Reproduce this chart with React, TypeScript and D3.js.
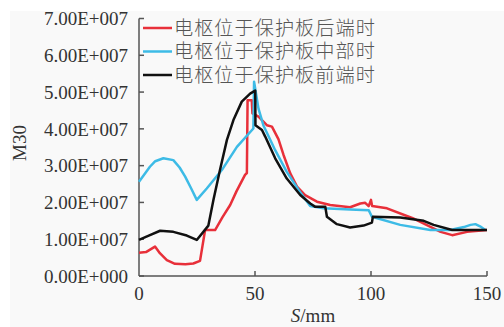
import React, { useEffect, useRef } from "react";
import * as d3 from "d3";

// S (mm), M30 pairs for each armature position
const rearData: [number, number][] = [
  [0, 0.63e7], [3, 0.65e7], [6.9, 0.8e7], [9, 0.62e7], [12, 0.43e7], [15.5, 0.33e7], [20, 0.32e7],
  [23.4, 0.34e7], [26.3, 0.41e7], [28.5, 1.25e7], [32.8, 1.25e7], [36, 1.6e7], [39.3, 1.93e7],
  [42, 2.3e7], [45.7, 2.75e7], [46.5, 2.8e7], [46.8, 4.78e7], [48.6, 4.78e7], [48.9, 4.42e7],
  [51.5, 4.33e7], [55.1, 4.1e7], [57.3, 4.06e7], [60.1, 3.72e7], [62.3, 3.29e7], [65.2, 2.79e7],
  [68.1, 2.43e7], [71.6, 2.2e7], [76.7, 2.02e7], [82.4, 1.93e7], [91, 1.87e7], [95.4, 1.97e7],
  [97.5, 1.99e7], [99, 1.9e7], [100, 2.07e7], [100.5, 1.9e7], [106.9, 1.84e7], [118, 1.57e7],
  [130, 1.2e7], [135, 1.11e7], [141.4, 1.2e7], [150, 1.25e7],
];

const middleData: [number, number][] = [
  [0, 2.56e7], [4.7, 2.97e7], [7, 3.12e7], [10.5, 3.2e7], [14.8, 3.15e7], [17.5, 2.95e7],
  [19.9, 2.7e7], [22.5, 2.38e7], [24.9, 2.07e7], [29.2, 2.38e7], [35.7, 2.88e7], [42.2, 3.51e7],
  [49.3, 4.01e7], [49.6, 5.28e7], [51.5, 4.55e7], [53.6, 4.1e7], [58.7, 3.42e7], [63.7, 2.83e7],
  [68.8, 2.34e7], [73.8, 1.9e7], [79.5, 1.84e7], [91, 1.81e7], [99, 1.79e7], [100.4, 1.61e7],
  [112.6, 1.39e7], [125.6, 1.25e7], [134.2, 1.25e7], [140, 1.33e7], [142.9, 1.39e7],
  [145, 1.41e7], [147, 1.35e7], [149.3, 1.25e7],
];

const frontData: [number, number][] = [
  [0, 0.98e7], [4.7, 1.11e7], [9.1, 1.23e7], [14.8, 1.2e7], [20.6, 1.1e7], [24.9, 0.98e7],
  [29.9, 1.37e7], [32.1, 2.07e7], [34.9, 2.88e7], [37.9, 3.7e7], [40.7, 4.24e7], [44.3, 4.74e7],
  [47.9, 4.96e7], [50.1, 5.04e7], [50.2, 4.1e7], [53, 3.97e7], [54.4, 3.79e7], [58.7, 3.2e7],
  [63.7, 2.65e7], [69.5, 2.2e7], [73.8, 1.97e7], [76, 1.88e7], [80.3, 1.88e7], [81, 1.61e7],
  [85.3, 1.41e7], [91, 1.32e7], [96.8, 1.37e7], [100.4, 1.45e7], [100.8, 1.61e7], [112.6, 1.59e7],
  [122.7, 1.5e7], [127, 1.39e7], [135, 1.25e7], [150, 1.25e7],
];

const seriesNames = ["电枢位于保护板后端时", "电枢位于保护板中部时", "电枢位于保护板前端时"];
const seriesColors = ["#e8303a", "#3dbbe6", "#111111"];
const xTicks = [0, 50, 100, 150];
const yTicks = [0, 1e7, 2e7, 3e7, 4e7, 5e7, 6e7, 7e7];

const serif = "'Liberation Serif', 'Times New Roman', Times, serif";

export default function App() {
  const ref = useRef<SVGSVGElement>(null);

  useEffect(() => {
    const width = 504;
    const height = 327;
    const margin = { top: 18.5, right: 17, bottom: 51, left: 139 };

    const svg = d3.select(ref.current);
    svg.selectAll("*").remove();

    // 背景
    svg.append("rect").attr("width", width).attr("height", height).attr("fill", "#ffffff");
    svg.append("rect").attr("x", 10).attr("y", 11).attr("width", width - 10).attr("height", height - 11).attr("fill", "#f9f9f9");

    const x = d3.scaleLinear().domain([0, 150]).range([margin.left, width - margin.right]);
    const y = d3.scaleLinear().domain([0, 7e7]).range([height - margin.bottom, margin.top]);

    const axisColor = "#555";
    const g = svg.append("g");

    // 轴线
    g.append("line")
      .attr("x1", x(0)).attr("x2", x(0))
      .attr("y1", y(7e7)).attr("y2", y(0))
      .attr("stroke", axisColor).attr("stroke-width", 1.5);
    g.append("line")
      .attr("x1", x(0)).attr("x2", x(150))
      .attr("y1", y(0)).attr("y2", y(0))
      .attr("stroke", axisColor).attr("stroke-width", 1.5);

    // y ticks
    yTicks.forEach((t) => {
      g.append("line")
        .attr("x1", x(0)).attr("x2", x(0) + 5)
        .attr("y1", y(t)).attr("y2", y(t))
        .attr("stroke", axisColor).attr("stroke-width", 1.5);
      g.append("text")
        .attr("x", 128).attr("y", y(t))
        .attr("dy", "0.35em")
        .attr("text-anchor", "end")
        .style("font-family", serif)
        .attr("font-size", 19)
        .attr("fill", "#333")
        .text(t === 0 ? "0.00E+000" : (t / 1e7).toFixed(2) + "E+007");
    });

    // x ticks
    xTicks.forEach((t) => {
      if (t !== 0) {
        g.append("line")
          .attr("x1", x(t)).attr("x2", x(t))
          .attr("y1", y(0)).attr("y2", y(0) - 5)
          .attr("stroke", axisColor).attr("stroke-width", 1.5);
      }
      g.append("text")
        .attr("x", x(t)).attr("y", 300)
        .attr("text-anchor", "middle")
        .style("font-family", serif)
        .attr("font-size", 19)
        .attr("fill", "#333")
        .text(t);
    });

    // 轴标题
    const xt = g.append("text")
      .attr("x", 313).attr("y", 322)
      .attr("text-anchor", "middle")
      .style("font-family", serif)
      .attr("font-size", 19)
      .attr("fill", "#333");
    xt.append("tspan").attr("font-style", "italic").text("S");
    xt.append("tspan").text("/mm");

    g.append("text")
      .attr("transform", "translate(26,143) rotate(-90)")
      .attr("text-anchor", "middle")
      .style("font-family", serif)
      .attr("font-size", 19)
      .attr("fill", "#333")
      .text("M30");

    // 折线
    const line = d3.line<[number, number]>()
      .x((d) => x(d[0]))
      .y((d) => y(d[1]));

    [rearData, middleData, frontData].forEach((data, i) => {
      g.append("path")
        .datum(data)
        .attr("fill", "none")
        .attr("stroke", seriesColors[i])
        .attr("stroke-width", 2.5)
        .attr("stroke-linejoin", "round")
        .attr("d", line);
    });

    // 图例
    const legendY = [28, 51.5, 75];
    seriesNames.forEach((name, i) => {
      g.append("line")
        .attr("x1", 143).attr("x2", 172)
        .attr("y1", legendY[i]).attr("y2", legendY[i])
        .attr("stroke", seriesColors[i]).attr("stroke-width", 2.5);
      g.append("text")
        .attr("x", 174).attr("y", legendY[i])
        .attr("dy", "0.36em")
        .style("font-family", "'Noto Sans CJK SC', sans-serif")
        .style("font-weight", 300)
        .style("letter-spacing", "1px")
        .attr("font-size", 19.2)
        .attr("fill", "#555")
        .text(name);
    });
  }, []);

  return (
    <div style={{ position: "fixed", left: 0, top: 0 }}>
      <svg ref={ref} width={504} height={327} style={{ display: "block" }} />
    </div>
  );
}
